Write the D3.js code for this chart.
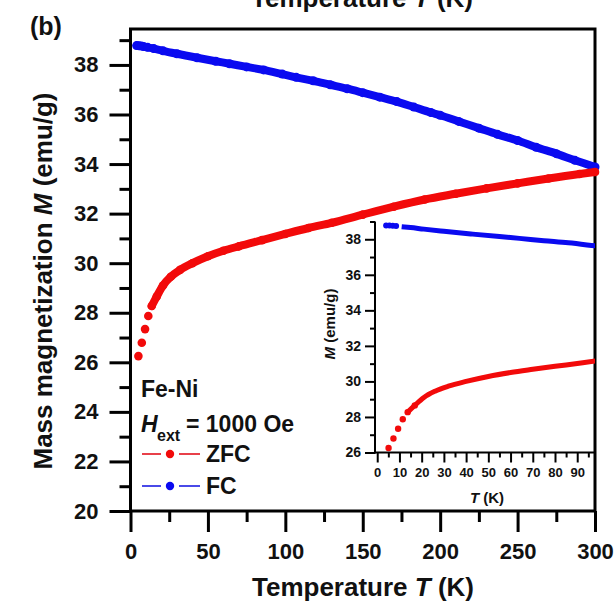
<!DOCTYPE html>
<html>
<head>
<meta charset="utf-8">
<script src="https://cdn.jsdelivr.net/npm/d3@7"></script>
<style>
  body { margin: 0; background: #fff; }
  svg { display: block; font-family: "Liberation Sans", Arial, sans-serif; font-weight: bold; }
</style>
</head>
<body>
<svg id="chart" width="614" height="605"></svg>
<script>
// ZFC / FC magnetization
let zfcT = [5.1, 7.3, 9.4, 11.5, 13.7, 16.9, 21, 26, 32, 40, 50, 60, 70, 85, 100, 115, 130, 150, 170, 190, 210, 230, 250, 270, 290, 300]
let zfcM = [26.25, 26.79, 27.34, 27.87, 28.27, 28.65, 29.1, 29.45, 29.73, 30.0, 30.28, 30.5, 30.68, 30.93, 31.18, 31.42, 31.63, 31.96, 32.28, 32.57, 32.8, 33.02, 33.22, 33.42, 33.6, 33.68]
let fcT = [4, 5.5, 7, 8.5, 11, 15, 21, 30, 43, 55, 64, 75, 86, 98, 107, 118, 129, 140, 150, 161, 172, 183, 194, 200, 212, 225, 237, 250, 262, 275, 287, 300]
let fcM = [38.78, 38.77, 38.76, 38.74, 38.71, 38.66, 38.57, 38.45, 38.29, 38.15, 38.05, 37.92, 37.8, 37.63, 37.5, 37.36, 37.2, 37.04, 36.88, 36.7, 36.52, 36.3, 36.08, 35.97, 35.72, 35.45, 35.2, 34.95, 34.68, 34.42, 34.15, 33.88]

let xTicks = [0, 50, 100, 150, 200, 250, 300]
let xMinor = [25, 75, 125, 175, 225, 275]
let yTicks = [20, 22, 24, 26, 28, 30, 32, 34, 36, 38]
let yMinor = [21, 23, 25, 27, 29, 31, 33, 35, 37, 39]
let insetXTicks = [0, 10, 20, 30, 40, 50, 60, 70, 80, 90]
let insetXMinor = [5, 15, 25, 35, 45, 55, 65, 75, 85, 95]
let insetYTicks = [26, 28, 30, 32, 34, 36, 38]
let insetYMinor = [27, 29, 31, 33, 35, 37, 39]

const RED = "#f20a0a", BLUE = "#0a0af0"
const NARROW = "'Liberation Sans Narrow', 'Arial Narrow', 'Liberation Sans', sans-serif"

let zfc = zfcT.map((t, i) => ({t, m: zfcM[i]}))
let fc = fcT.map((t, i) => ({t, m: fcM[i]}))

let svg = d3.select("#chart")

let x = d3.scaleLinear().domain([0, 300]).range([130.5, 595])
let y = d3.scaleLinear().domain([20, 39.45]).range([511, 29])

// inset scales
let xi = d3.scaleLinear().domain([-1, 98]).range([375, 595])
let yi = d3.scaleLinear().domain([26, 39]).range([452.5, 221.5])

function styleAxis(g, size) {
  g.select(".domain").remove()
  g.selectAll(".tick line").attr("stroke", "#000").attr("stroke-width", size)
  g.selectAll(".tick text").attr("fill", "#111")
}

// ---- main axes
let gx = svg.append("g").attr("transform", "translate(0,511)")
  .call(d3.axisBottom(x).tickValues(xTicks).tickSize(21).tickPadding(11))
  .style("font-size", "22px").style("font-family", null).style("font-weight", "bold")
styleAxis(gx, 3)
svg.append("g").attr("transform", "translate(0,511)")
  .call(d3.axisBottom(x).tickValues(xMinor).tickSize(11).tickFormat(""))
  .call(g => styleAxis(g, 3))

let gy = svg.append("g").attr("transform", "translate(130.5,0)")
  .call(d3.axisLeft(y).tickValues(yTicks).tickSize(21).tickPadding(11))
  .style("font-size", "22px").style("font-family", null).style("font-weight", "bold")
styleAxis(gy, 3)
svg.append("g").attr("transform", "translate(130.5,0)")
  .call(d3.axisLeft(y).tickValues(yMinor).tickSize(11).tickFormat(""))
  .call(g => styleAxis(g, 3))

svg.append("rect")
  .attr("x", 130.5).attr("y", 29).attr("width", 595 - 130.5).attr("height", 511 - 29)
  .attr("fill", "none").attr("stroke", "#000").attr("stroke-width", 3)

// ---- main data
let line = d3.line().x(d => x(d.t)).y(d => y(d.m)).curve(d3.curveMonotoneX)

svg.append("path").datum(fc)
  .attr("d", line).attr("fill", "none").attr("stroke", BLUE)
  .attr("stroke-width", 8).attr("stroke-linecap", "round")
svg.append("g").selectAll("circle").data(fc).join("circle")
  .attr("cx", d => x(d.t)).attr("cy", d => y(d.m)).attr("r", 4.5).attr("fill", BLUE)

svg.append("path").datum(zfc.filter(d => d.t >= 13))
  .attr("d", line).attr("fill", "none").attr("stroke", RED)
  .attr("stroke-width", 8).attr("stroke-linecap", "round")
svg.append("g").selectAll("circle").data(zfc).join("circle")
  .attr("cx", d => x(d.t)).attr("cy", d => y(d.m)).attr("r", 4.3).attr("fill", RED)

// ---- titles
let xt = svg.append("text").attr("x", 363).attr("y", 596).attr("text-anchor", "middle")
  .style("font-size", "26px").attr("fill", "#111")
xt.append("tspan").text("Temperature ")
xt.append("tspan").attr("font-style", "italic").text("T")
xt.append("tspan").text(" (K)")

// clipped title of the panel above
let tt = svg.append("text").attr("x", 362).attr("y", 7).attr("text-anchor", "middle")
  .style("font-size", "26px").attr("fill", "#111")
tt.append("tspan").text("Temperature ")
tt.append("tspan").attr("font-style", "italic").text("T")
tt.append("tspan").text(" (K)")

let yt = svg.append("text").attr("transform", "translate(52,281) rotate(-90)")
  .attr("text-anchor", "middle").style("font-size", "26px").attr("fill", "#111")
yt.append("tspan").text("Mass magnetization ")
yt.append("tspan").attr("font-style", "italic").text("M")
yt.append("tspan").text(" (emu/g)")

svg.append("text").attr("x", 30).attr("y", 35).style("font-size", "25px").attr("fill", "#111").text("(b)")

// ---- legend
svg.append("text").attr("x", 141).attr("y", 397).style("font-size", "23px").attr("fill", "#111").text("Fe-Ni")
let hl = svg.append("text").attr("y", 432).style("font-size", "23px").attr("fill", "#111")
hl.append("tspan").attr("x", 141).attr("font-style", "italic").text("H")
hl.append("tspan").attr("x", 157).attr("dy", 9).style("font-size", "16px").text("ext")
hl.append("tspan").attr("x", 186).attr("dy", -9).text("= 1000 Oe")

let legend = [{name: "ZFC", color: RED, light: "#e8404a", y: 454},
              {name: "FC", color: BLUE, light: "#4a4ae8", y: 486}]
let lg = svg.append("g").selectAll("g").data(legend).join("g")
lg.append("line").attr("x1", 142).attr("x2", 161).attr("y1", d => d.y).attr("y2", d => d.y)
  .attr("stroke", d => d.light).attr("stroke-width", 2)
lg.append("line").attr("x1", 179).attr("x2", 200).attr("y1", d => d.y).attr("y2", d => d.y)
  .attr("stroke", d => d.light).attr("stroke-width", 2)
lg.append("circle").attr("cx", 170).attr("cy", d => d.y).attr("r", 4.2).attr("fill", d => d.color)
lg.append("text").attr("x", 206).attr("y", d => d.y + 8).style("font-size", "23px")
  .attr("fill", "#111").text(d => d.name)

// ---- inset
let inset = svg.append("g")
inset.append("clipPath").attr("id", "insetClip").append("rect")
  .attr("x", 375).attr("y", 215).attr("width", 220).attr("height", 240)

let ix = inset.append("g").attr("transform", "translate(0,452.5)")
  .call(d3.axisBottom(xi).tickValues(insetXTicks).tickSize(10).tickPadding(5))
  .style("font-size", "13px").style("font-family", NARROW).style("font-weight", "bold")
styleAxis(ix, 2)
inset.append("g").attr("transform", "translate(0,452.5)")
  .call(d3.axisBottom(xi).tickValues(insetXMinor).tickSize(5).tickFormat(""))
  .call(g => styleAxis(g, 2))

let iy = inset.append("g").attr("transform", "translate(375,0)")
  .call(d3.axisLeft(yi).tickValues(insetYTicks).tickSize(10).tickPadding(4))
  .style("font-size", "14px").style("font-family", NARROW).style("font-weight", "bold")
styleAxis(iy, 2)
inset.append("g").attr("transform", "translate(375,0)")
  .call(d3.axisLeft(yi).tickValues(insetYMinor).tickSize(5).tickFormat(""))
  .call(g => styleAxis(g, 2))

inset.append("line").attr("x1", 375).attr("x2", 375).attr("y1", 221.5).attr("y2", 453.5)
  .attr("stroke", "#000").attr("stroke-width", 2)
inset.append("line").attr("x1", 374).attr("x2", 595).attr("y1", 452.5).attr("y2", 452.5)
  .attr("stroke", "#000").attr("stroke-width", 2)

let lineI = d3.line().x(d => xi(d.t)).y(d => yi(d.m)).curve(d3.curveMonotoneX)
let plotI = inset.append("g").attr("clip-path", "url(#insetClip)")
plotI.append("path").datum(fc.filter(d => d.t >= 11 && d.t <= 110))
  .attr("d", lineI).attr("fill", "none").attr("stroke", BLUE).attr("stroke-width", 5)
plotI.selectAll(".fcpt").data(fc.filter(d => d.t < 10)).join("circle")
  .attr("cx", d => xi(d.t)).attr("cy", d => yi(d.m)).attr("r", 3).attr("fill", BLUE)
plotI.append("path").datum(zfc.filter(d => d.t >= 13 && d.t <= 110))
  .attr("d", lineI).attr("fill", "none").attr("stroke", RED).attr("stroke-width", 5)
plotI.selectAll(".zfcpt").data(zfc.filter(d => d.t < 20)).join("circle")
  .attr("cx", d => xi(d.t)).attr("cy", d => yi(d.m)).attr("r", 3.2).attr("fill", RED)

let ixt = inset.append("text").attr("x", 487).attr("y", 503).attr("text-anchor", "middle")
  .style("font-size", "15px").attr("fill", "#111")
ixt.append("tspan").attr("font-style", "italic").text("T")
ixt.append("tspan").text(" (K)")

let iyt = inset.append("text").attr("transform", "translate(335,324) rotate(-90)")
  .attr("text-anchor", "middle").style("font-size", "15px").attr("fill", "#111")
iyt.append("tspan").attr("font-style", "italic").text("M")
iyt.append("tspan").text(" (emu/g)")
</script>
</body>
</html>
